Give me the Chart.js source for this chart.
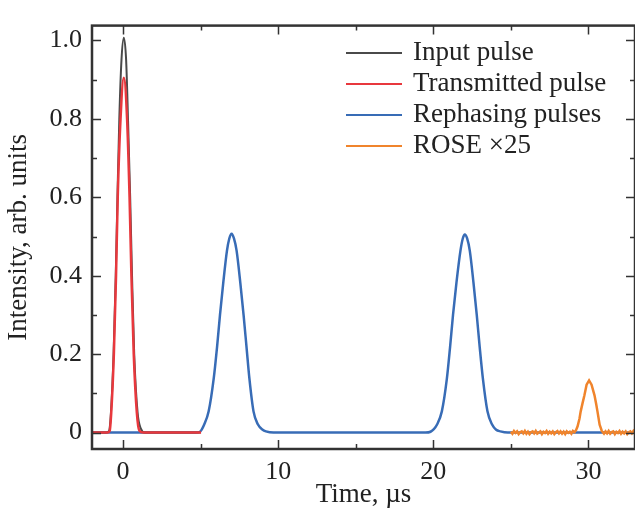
<!DOCTYPE html>
<html>
<head>
<meta charset="utf-8">
<script src="https://cdn.jsdelivr.net/npm/chart.js@4"></script>
<style>
  body { margin: 0; background: #fff; }
</style>
</head>
<body>
<canvas id="pulseChart" width="635" height="513"></canvas>
<script>
// values (time in µs, intensity in arb. units)
const inputT = [-2, -1.1, -0.9, -0.78, -0.61, -0.47, -0.36, -0.24, -0.1, 0.05, 0.2, 0.32, 0.46, 0.58, 0.72, 0.94, 1.15, 1.4, 5];
const inputY = [0, 0, 0.004, 0.05, 0.2, 0.4, 0.6, 0.8, 0.95, 1.007, 0.95, 0.8, 0.6, 0.4, 0.2, 0.05, 0.01, 0, 0];

const transT = [-2, -1.0, -0.86, -0.76, -0.59, -0.45, -0.34, -0.16, 0.05, 0.26, 0.42, 0.54, 0.69, 0.89, 1.05, 1.3, 5.03];
const transY = [0, 0, 0.004, 0.05, 0.2, 0.4, 0.6, 0.8, 0.905, 0.8, 0.6, 0.4, 0.2, 0.05, 0.005, 0, 0];

const rephT = [-2, 4.7, 4.96, 5.24, 5.52, 5.84, 6.06, 6.25, 6.46, 6.7, 6.85, 7.0, 7.15, 7.32, 7.56, 7.77, 7.96, 8.15, 8.41, 8.69, 9.0, 9.21, 9.7,
               19.5, 19.82, 20.25, 20.55, 20.87, 21.08, 21.27, 21.49, 21.75, 21.9, 22.03, 22.18, 22.35, 22.59, 22.8, 22.99, 23.2, 23.49, 23.78, 24.05, 24.32, 24.8, 33];
const rephY = [0, 0, 0.002, 0.021, 0.054, 0.136, 0.218, 0.3, 0.382, 0.464, 0.495, 0.507, 0.495, 0.464, 0.382, 0.3, 0.218, 0.136, 0.054, 0.021, 0.007, 0.003, 0,
               0, 0.002, 0.021, 0.054, 0.136, 0.218, 0.3, 0.382, 0.464, 0.495, 0.505, 0.495, 0.464, 0.382, 0.3, 0.218, 0.136, 0.054, 0.021, 0.007, 0.003, 0, 0];

// ROSE echo (x25), noisy baseline read as a band of about ±0.004
const roseT = [25.0, 25.1, 25.2, 25.3, 25.4, 25.5, 25.6, 25.7, 25.8, 25.9,
               26.0, 26.1, 26.2, 26.3, 26.4, 26.5, 26.6, 26.7, 26.8, 26.9,
               27.0, 27.1, 27.2, 27.3, 27.4, 27.5, 27.6, 27.7, 27.8, 27.9,
               28.0, 28.1, 28.2, 28.3, 28.4, 28.5, 28.6, 28.7, 28.8, 28.9,
               29.0, 29.1, 29.2,
               29.3, 29.42, 29.5, 29.62, 29.74, 29.88, 30.04, 30.2, 30.39, 30.5, 30.58, 30.72, 30.86,
               31.0, 31.1, 31.2, 31.3, 31.4, 31.5, 31.6, 31.7, 31.8, 31.9,
               32.0, 32.1, 32.2, 32.3, 32.4, 32.5, 32.6, 32.7, 32.8, 32.9, 33.0];
const roseY = [0.002, -0.003, 0.004, -0.001, 0.003, -0.004, 0.001, 0.003, -0.002, 0.004,
               -0.003, 0.002, -0.004, 0.001, 0.003, -0.002, 0.004, -0.003, 0.0, 0.003,
               -0.004, 0.002, -0.001, 0.004, -0.003, 0.002, -0.002, 0.003, -0.004, 0.001,
               0.004, -0.002, 0.003, -0.003, 0.002, -0.004, 0.003, -0.001, 0.002, -0.003,
               0.004, 0.001, 0.006,
               0.016, 0.035, 0.054, 0.075, 0.095, 0.122, 0.133, 0.122, 0.095, 0.072, 0.054, 0.02, 0.004,
               -0.003, 0.003, -0.002, 0.004, -0.003, 0.001, 0.003, -0.004, 0.002, -0.001,
               0.004, -0.003, 0.002, -0.002, 0.003, -0.004, 0.001, 0.003, -0.002, 0.004, -0.001];

const seriesNames = ['Input pulse', 'Transmitted pulse', 'Rephasing pulses', 'ROSE \u00d725'];

const xMajor = [0, 10, 20, 30];
const xMinor = [5, 15, 25];
const xLabels = ['0', '10', '20', '30'];
const yMajor = [0, 0.2, 0.4, 0.6, 0.8, 1.0];
const yMinor = [0.1, 0.3, 0.5, 0.7, 0.9];
const yLabels = ['0', '0.2', '0.4', '0.6', '0.8', '1.0'];

const toPoints = (xs, ys) => xs.map((x, i) => ({ x: x, y: ys[i] }));

const axisColor = '#333';
const textColor = '#222';

Chart.defaults.font.family = "'Liberation Serif', 'Times New Roman', serif";
Chart.defaults.color = textColor;

function setTicks(major, minor) {
    return (scale) => {
        scale.ticks = major.concat(minor).sort((a, b) => a - b).map(v => ({ value: v }));
    };
}

function tickLabel(major, labels) {
    return (v) => {
        const i = major.findIndex(m => Math.abs(m - v) < 1e-9);
        return i >= 0 ? labels[i] : '';
    };
}

// frame with inward ticks on all four sides, plus the legend
const framePlugin = {
    id: 'frame',
    afterDraw(chart) {
        const { ctx, chartArea: a, scales } = chart;
        ctx.save();
        ctx.strokeStyle = axisColor;
        ctx.lineWidth = 1.5;
        ctx.beginPath();
        scales.x.ticks.forEach(t => {
            const px = Math.round(scales.x.getPixelForValue(t.value)) + 0.5;
            const len = xMajor.includes(t.value) ? 9 : 5;
            ctx.moveTo(px, a.bottom); ctx.lineTo(px, a.bottom - len);
            ctx.moveTo(px, a.top); ctx.lineTo(px, a.top + len);
        });
        scales.y.ticks.forEach(t => {
            const py = Math.round(scales.y.getPixelForValue(t.value)) + 0.5;
            const len = yMajor.some(m => Math.abs(m - t.value) < 1e-9) ? 9 : 5;
            ctx.moveTo(a.left, py); ctx.lineTo(a.left + len, py);
            ctx.moveTo(a.right, py); ctx.lineTo(a.right - len, py);
        });
        ctx.stroke();
        ctx.lineWidth = 2.5;
        ctx.strokeRect(a.left, a.top, a.right - a.left, a.bottom - a.top);

        // legend
        ctx.font = "27px 'Liberation Serif'";
        ctx.textBaseline = 'middle';
        ctx.textAlign = 'left';
        chart.data.datasets.forEach((ds, i) => {
            const y = 53 + i * 31;
            ctx.strokeStyle = ds.borderColor;
            ctx.lineWidth = 1.8;
            ctx.beginPath();
            ctx.moveTo(346, y); ctx.lineTo(402, y);
            ctx.stroke();
            ctx.fillStyle = textColor;
            ctx.fillText(ds.label, 413, y);
        });
        ctx.restore();
    }
};

new Chart(document.getElementById('pulseChart'), {
    type: 'line',
    data: {
        datasets: [
            {
                label: seriesNames[0],
                data: toPoints(inputT, inputY),
                borderColor: '#4a4a4a',
                borderWidth: 2,
                cubicInterpolationMode: 'monotone',
                pointRadius: 0,
                order: 2
            },
            {
                label: seriesNames[1],
                data: toPoints(transT, transY),
                borderColor: '#e8383d',
                borderWidth: 2.5,
                cubicInterpolationMode: 'monotone',
                pointRadius: 0,
                order: 1
            },
            {
                label: seriesNames[2],
                data: toPoints(rephT, rephY),
                borderColor: '#386cb6',
                borderWidth: 2.5,
                cubicInterpolationMode: 'monotone',
                pointRadius: 0,
                order: 3
            },
            {
                label: seriesNames[3],
                data: toPoints(roseT, roseY),
                borderColor: '#f0842c',
                borderWidth: 2.5,
                tension: 0,
                pointRadius: 0,
                order: 0
            }
        ]
    },
    options: {
        responsive: false,
        animation: false,
        layout: { padding: { top: 10, right: 0, left: 0, bottom: 0 } },
        plugins: {
            legend: { display: false },
            tooltip: { enabled: false }
        },
        scales: {
            x: {
                type: 'linear',
                min: -2,
                max: 33,
                afterBuildTicks: setTicks(xMajor, xMinor),
                afterFit: (s) => { s.height = 64; },
                grid: { display: false, drawTicks: false },
                border: { display: false },
                ticks: {
                    autoSkip: false,
                    maxRotation: 0,
                    padding: 8,
                    font: { size: 26 },
                    callback: tickLabel(xMajor, xLabels)
                },
                title: {
                    display: true,
                    text: 'Time, \u00b5s',
                    font: { size: 27 },
                    padding: { top: 0, bottom: 2 }
                }
            },
            y: {
                min: -0.042,
                max: 1.038,
                afterBuildTicks: setTicks(yMajor, yMinor),
                afterFit: (s) => { s.width = 92; },
                grid: { display: false, drawTicks: false },
                border: { display: false },
                ticks: {
                    autoSkip: false,
                    padding: 10,
                    font: { size: 26 },
                    callback: tickLabel(yMajor, yLabels)
                },
                title: {
                    display: true,
                    text: 'Intensity, arb. units',
                    font: { size: 27 },
                    padding: { top: 3, bottom: 0 }
                }
            }
        }
    },
    plugins: [framePlugin]
});
</script>
</body>
</html>
